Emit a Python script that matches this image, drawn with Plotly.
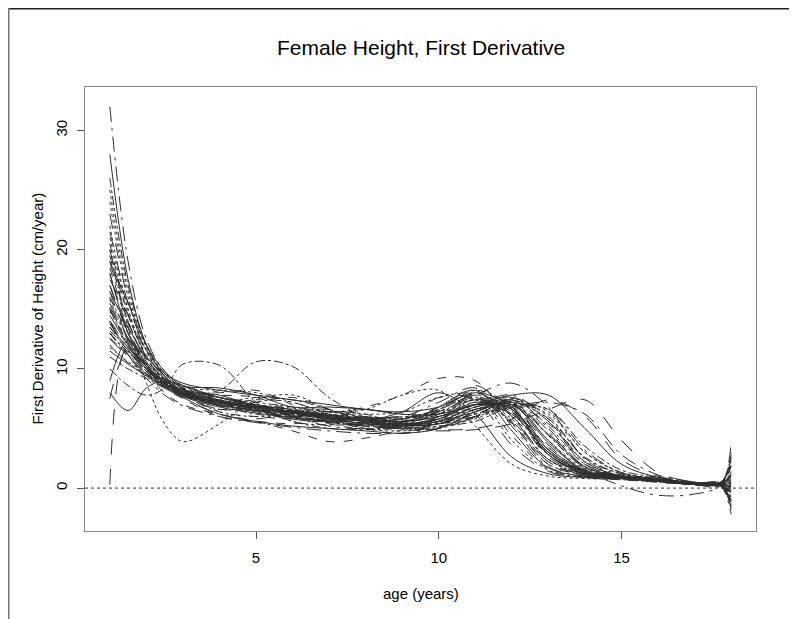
import plotly.graph_objects as go

ages = [1, 1.5, 2, 2.5, 3, 4, 5, 6, 7, 8, 9, 10, 11, 12, 13, 14, 15, 16, 17, 17.7, 18]

girl_01 = [18.0, 13.0, 10.2, 8.8, 8.0, 7.2, 6.8, 6.3, 5.9, 5.7, 6.4, 8.0, 6.2, 2.6, 1.2, 0.9, 0.8, 0.6, 0.3, 0.3, 1.0]
girl_02 = [14.0, 12.0, 10.0, 8.8, 8.0, 7.8, 7.6, 6.4, 5.4, 5.0, 5.5, 6.5, 7.8, 5.5, 2.2, 1.1, 0.9, 0.7, 0.4, 0.3, -0.5]
girl_03 = [22.0, 15.0, 11.0, 9.0, 8.0, 7.0, 6.5, 6.2, 6.0, 5.6, 5.2, 5.5, 7.0, 7.2, 4.0, 1.6, 1.0, 0.7, 0.3, 0.4, 2.0]
girl_04 = [12.0, 10.5, 9.5, 8.5, 7.8, 7.0, 6.5, 6.0, 5.5, 5.2, 5.0, 5.0, 6.0, 7.5, 6.0, 2.5, 1.2, 0.8, 0.4, 0.2, -1.0]
girl_05 = [16.5, 12.5, 10.0, 8.6, 7.6, 6.2, 5.8, 6.4, 6.6, 5.8, 5.2, 6.2, 7.6, 6.0, 2.8, 1.3, 0.9, 0.6, 0.3, 0.5, 0.2]
girl_06 = [20.0, 14.5, 11.2, 9.4, 8.4, 7.6, 7.0, 6.5, 6.1, 5.9, 6.0, 7.2, 8.4, 5.2, 1.8, 1.0, 0.8, 0.6, 0.3, 0.2, 3.0]
girl_07 = [13.5, 11.8, 10.2, 9.0, 8.2, 7.4, 6.9, 6.4, 6.0, 5.6, 5.3, 5.4, 6.6, 7.0, 4.5, 1.8, 1.0, 0.8, 0.4, 0.4, -1.8]
girl_08 = [15.0, 12.2, 9.8, 8.4, 7.5, 6.0, 5.6, 5.4, 5.6, 5.0, 4.6, 5.6, 7.2, 6.4, 3.0, 1.3, 1.0, 0.7, 0.4, 0.3, 1.2]
girl_09 = [25.0, 16.5, 11.8, 9.6, 8.5, 8.2, 8.0, 7.2, 6.4, 6.6, 6.2, 6.2, 7.4, 6.6, 3.2, 1.4, 0.9, 0.6, 0.3, 0.3, -0.3]
girl_10 = [11.0, 10.0, 9.2, 8.4, 7.8, 7.1, 6.6, 6.2, 5.8, 5.4, 5.1, 5.2, 5.6, 6.8, 6.6, 3.5, 1.5, 0.9, 0.5, 0.3, 0.6]
girl_11 = [17.0, 13.2, 10.6, 9.0, 8.0, 7.0, 6.5, 6.0, 5.6, 5.3, 5.6, 7.6, 7.4, 3.6, 1.4, 0.9, 0.8, 0.6, 0.3, 0.2, -1.2]
girl_12 = [19.0, 14.0, 10.8, 9.2, 8.2, 7.0, 7.4, 7.2, 6.2, 5.8, 6.0, 6.0, 6.8, 7.6, 5.0, 1.8, 1.0, 0.7, 0.4, 0.5, 1.6]
girl_13 = [14.5, 12.0, 10.0, 8.6, 7.7, 6.8, 6.3, 5.9, 5.6, 5.3, 5.2, 6.8, 8.2, 4.8, 1.7, 1.0, 0.8, 0.6, 0.3, 0.3, 0.0]
girl_14 = [13.0, 11.0, 9.5, 8.5, 7.8, 7.0, 6.5, 6.2, 6.3, 6.8, 7.8, 9.2, 9.0, 5.5, 2.0, 1.1, 0.8, 0.5, 0.3, 0.4, 2.4]
girl_15 = [21.0, 15.0, 11.0, 9.0, 7.9, 7.0, 6.6, 6.3, 6.0, 5.7, 5.5, 5.4, 5.9, 7.3, 6.4, 3.0, 1.3, 0.8, 0.4, 0.3, -0.8]
girl_16 = [16.0, 13.0, 10.4, 8.8, 7.8, 6.6, 7.2, 7.6, 6.6, 5.6, 5.2, 5.8, 7.0, 6.8, 3.4, 1.5, 1.0, 0.7, 0.3, 0.3, 0.9]
girl_17 = [12.5, 11.0, 9.6, 8.6, 7.9, 7.2, 6.7, 6.2, 5.8, 5.4, 5.1, 4.9, 5.0, 5.8, 7.4, 6.0, 2.4, 1.0, 0.5, 0.3, 1.5]
girl_18 = [15.5, 12.5, 10.2, 8.8, 8.0, 7.3, 6.8, 6.4, 6.1, 5.8, 5.8, 6.4, 7.8, 8.8, 6.8, 2.4, 1.1, 0.7, 0.3, 0.3, -0.4]
girl_19 = [10.0, 8.6, 7.8, 8.4, 10.4, 10.3, 7.2, 5.6, 5.3, 5.4, 5.8, 6.6, 7.6, 5.4, 2.0, 1.1, 0.8, 0.6, 0.3, 0.3, 0.4]
girl_20 = [13.0, 11.2, 9.6, 8.6, 8.0, 8.2, 10.6, 10.2, 7.6, 6.0, 5.6, 6.2, 7.4, 5.6, 2.4, 1.2, 0.9, 0.7, 0.3, 0.3, -1.4]
girl_21 = [20.0, 13.5, 8.8, 5.4, 3.9, 5.4, 7.4, 7.8, 6.6, 5.6, 5.2, 5.8, 7.2, 6.2, 2.8, 1.3, 0.9, 0.6, 0.3, 0.3, 0.8]
girl_22 = [8.0, 6.5, 8.4, 9.0, 8.6, 7.6, 6.9, 6.3, 5.9, 5.6, 5.4, 5.8, 7.0, 6.6, 3.2, 1.4, 1.0, 0.7, 0.4, 0.3, 0.1]
girl_23 = [0.3, 12.0, 11.0, 9.4, 8.3, 7.3, 6.8, 6.4, 6.0, 5.6, 5.3, 5.4, 6.4, 7.2, 4.6, 1.8, 1.0, 0.7, 0.3, 0.3, 3.8]
girl_24 = [32.0, 19.0, 12.5, 9.8, 8.6, 7.6, 7.0, 6.6, 6.2, 5.9, 5.8, 6.6, 8.0, 6.0, 2.4, 1.2, 0.9, 0.6, 0.3, 0.2, -2.2]
girl_25 = [28.0, 17.5, 12.0, 9.4, 8.2, 7.8, 6.8, 5.8, 5.6, 6.0, 5.4, 5.6, 6.8, 7.0, 3.8, 1.5, 1.0, 0.7, 0.3, 0.4, 1.1]
girl_26 = [15.0, 12.0, 9.6, 8.0, 7.0, 6.2, 5.6, 4.8, 3.9, 4.2, 4.9, 6.0, 7.4, 6.4, 3.0, 1.2, 0.8, 0.6, 0.3, 0.3, -0.6]
girl_27 = [24.0, 16.0, 11.5, 9.2, 8.0, 6.4, 6.0, 6.2, 6.0, 5.0, 4.8, 5.2, 5.8, 7.0, 6.2, 3.0, 1.3, 0.8, 0.4, 0.3, 0.4]
girl_28 = [13.0, 11.4, 10.0, 9.0, 8.3, 7.6, 7.2, 6.8, 6.4, 6.0, 5.9, 6.6, 8.2, 6.8, 2.8, 1.3, 0.9, 0.6, 0.3, 0.4, 2.2]
girl_29 = [14.0, 11.8, 10.0, 8.8, 8.0, 7.2, 6.6, 6.1, 5.6, 5.2, 4.9, 4.8, 4.9, 5.4, 6.6, 7.4, 4.0, 1.3, 0.5, 0.3, -1.0]
girl_30 = [17.5, 14.5, 11.5, 9.6, 8.4, 7.4, 6.8, 6.3, 5.8, 5.4, 5.2, 5.4, 6.0, 6.8, 7.2, 6.2, 2.8, 1.1, 0.5, 0.3, 0.6]
girl_31 = [11.5, 10.4, 9.4, 8.4, 7.6, 6.2, 5.6, 5.2, 5.0, 4.8, 4.6, 5.0, 6.4, 7.0, 4.0, 1.4, 0.9, 0.6, 0.3, 0.2, -0.2]
girl_32 = [19.5, 14.0, 10.6, 8.8, 7.8, 6.9, 6.4, 6.0, 5.7, 5.5, 5.6, 6.8, 7.8, 4.4, 1.6, 0.9, 0.7, 0.5, 0.3, 0.3, 1.8]
girl_33 = [16.0, 13.0, 10.6, 9.2, 8.4, 7.6, 7.0, 6.6, 6.4, 6.6, 7.8, 8.2, 5.2, 2.0, 1.0, 0.8, 0.7, 0.5, 0.3, 0.3, -1.6]
girl_34 = [13.5, 11.5, 9.8, 8.6, 7.8, 7.4, 6.6, 5.6, 5.0, 4.9, 5.0, 5.1, 6.0, 7.4, 5.2, 2.0, 1.0, 0.7, 0.3, 0.3, 0.9]
girl_35 = [21.5, 15.5, 11.6, 9.4, 8.2, 7.2, 6.7, 6.3, 5.9, 5.6, 5.4, 5.9, 7.4, 7.0, 3.2, 1.3, 0.9, 0.6, 0.3, 0.3, -0.9]
girl_36 = [15.0, 12.4, 10.2, 8.8, 7.9, 7.1, 6.6, 6.2, 5.8, 5.5, 5.3, 5.6, 6.8, 7.4, 4.8, 1.6, 0.2, -0.6, -0.5, 0.2, 2.6]
girl_37 = [9.0, 12.4, 10.4, 8.8, 7.9, 7.2, 6.8, 6.4, 6.1, 5.8, 5.6, 6.0, 7.0, 6.2, 3.0, 1.4, 0.9, 0.7, 0.4, 0.3, -0.4]
girl_38 = [18.5, 13.8, 10.8, 9.2, 8.2, 8.0, 8.2, 7.0, 6.0, 5.8, 6.0, 5.8, 6.4, 7.6, 5.8, 2.2, 1.0, 0.6, 0.3, 0.4, 1.3]
girl_39 = [14.8, 12.2, 10.2, 8.9, 8.1, 7.4, 7.0, 6.7, 6.4, 6.2, 6.4, 7.6, 7.8, 4.0, 1.5, 0.9, 0.8, 0.6, 0.3, 0.2, -0.1]
girl_40 = [26.0, 17.0, 12.0, 9.6, 8.4, 7.0, 6.2, 6.0, 6.4, 6.2, 5.4, 5.8, 6.6, 7.2, 4.4, 1.7, 1.0, 0.6, 0.3, 0.3, 0.7]
girl_41 = [7.5, 11.6, 10.2, 8.8, 7.8, 6.9, 6.4, 5.9, 5.5, 5.2, 5.0, 5.4, 6.6, 6.8, 3.6, 1.4, 0.9, 0.6, 0.3, 0.3, -1.3]
girl_42 = [17.0, 13.0, 10.3, 8.9, 8.0, 7.3, 6.9, 6.5, 6.1, 5.8, 5.6, 6.0, 7.0, 7.8, 5.6, 2.0, 1.0, 0.7, 0.4, 0.4, 1.9]
girl_43 = [19.0, 15.5, 12.0, 9.8, 8.6, 8.4, 7.8, 6.8, 6.8, 6.6, 6.2, 6.2, 7.0, 7.8, 7.8, 5.0, 2.0, 0.9, 0.4, 0.3, 0.2]
girl_44 = [13.2, 11.6, 10.0, 8.7, 7.8, 7.0, 6.5, 6.1, 5.7, 5.4, 5.3, 5.8, 7.2, 6.6, 3.0, 1.3, 0.8, 0.6, 0.3, 0.3, -0.7]
girl_45 = [15.8, 12.6, 10.2, 8.8, 7.9, 7.2, 6.8, 6.5, 6.2, 5.9, 5.8, 6.4, 7.4, 5.8, 2.4, 1.1, 0.8, 0.6, 0.3, 0.3, 1.4]
girl_46 = [12.6, 11.2, 9.8, 8.8, 8.1, 7.2, 7.6, 7.4, 6.6, 5.6, 5.2, 5.6, 6.2, 7.2, 5.8, 2.6, 1.2, 0.8, 0.4, 0.3, -0.3]
girl_47 = [23.0, 15.8, 11.4, 9.2, 8.1, 7.2, 6.7, 6.3, 6.0, 5.7, 5.6, 6.4, 7.8, 6.4, 2.6, 1.2, 0.9, 0.6, 0.3, 0.2, 0.5]
girl_48 = [14.0, 11.2, 9.2, 7.8, 6.9, 6.0, 5.5, 5.1, 4.8, 4.6, 4.6, 5.0, 6.2, 6.4, 3.4, 1.4, 0.9, 0.6, 0.3, 0.3, -1.1]
girl_49 = [16.5, 13.5, 11.0, 9.6, 8.8, 8.2, 7.8, 7.4, 7.0, 6.6, 6.4, 6.8, 8.0, 6.8, 2.8, 1.2, 0.9, 0.6, 0.3, 0.3, 1.0]
girl_50 = [18.0, 13.4, 10.4, 8.8, 7.8, 6.4, 6.0, 5.8, 5.8, 5.6, 5.0, 5.4, 6.2, 7.0, 5.4, 2.2, 1.0, 0.7, 0.3, 0.3, -0.5]
girl_51 = [11.8, 10.6, 9.6, 8.7, 8.0, 7.3, 6.9, 6.5, 6.1, 5.7, 5.5, 6.2, 7.8, 6.6, 2.8, 1.2, 0.9, 0.6, 0.3, 0.3, 0.3]
girl_52 = [20.5, 14.6, 11.0, 9.1, 8.0, 6.6, 6.8, 6.6, 5.8, 5.0, 5.2, 5.6, 6.4, 7.4, 5.6, 2.2, 1.0, 0.7, 0.3, 0.4, 2.8]
girl_53 = [15.2, 12.6, 10.4, 9.0, 8.1, 7.3, 6.8, 6.4, 6.0, 5.7, 5.6, 6.4, 8.6, 6.0, 2.2, 1.1, 0.8, 0.6, 0.3, 0.2, -0.8]
girl_54 = [13.8, 11.6, 9.9, 8.7, 7.9, 7.6, 7.0, 6.0, 5.2, 5.0, 5.4, 5.4, 6.0, 7.0, 6.6, 3.2, 1.3, 0.8, 0.4, 0.3, 0.0]

girls = [girl_01, girl_02, girl_03, girl_04, girl_05, girl_06, girl_07, girl_08, girl_09,
         girl_10, girl_11, girl_12, girl_13, girl_14, girl_15, girl_20, girl_17, girl_18,
         girl_22, girl_16, girl_21, girl_19, girl_23, girl_24, girl_25, girl_26, girl_27,
         girl_28, girl_29, girl_30, girl_31, girl_32, girl_33, girl_34, girl_35, girl_36,
         girl_37, girl_38, girl_39, girl_40, girl_41, girl_42, girl_43, girl_44, girl_45,
         girl_46, girl_47, girl_48, girl_49, girl_50, girl_51, girl_52, girl_53, girl_54]

x_ticks = [5, 10, 15]
y_ticks = [0, 10, 20, 30]

dashes = ["solid", "dash", "dot", "dashdot", "longdash", "longdashdot"]

FONT = "Liberation Sans, Arial, Helvetica, sans-serif"

fig = go.Figure()
for i, v in enumerate(girls):
    fig.add_trace(go.Scatter(
        x=ages, y=v, mode="lines",
        line=dict(color="#2e2e2e", width=1, dash=dashes[i % len(dashes)],
                  shape="spline", smoothing=1.0),
        showlegend=False, hoverinfo="skip"))

# dotted zero reference line
fig.add_shape(type="line", xref="paper", yref="y", x0=0, x1=1, y0=0, y1=0,
              line=dict(color="#333", width=1, dash="dot"), layer="below")

# page geometry (the page body adds an 8px offset)
W, H = 797, 619
L, R, T, B = 77, 49, 79, 96
pw, ph = W - L - R, H - T - B
def px(xp):
    return (xp - L) / pw
def py(yp):
    return (H - B - yp) / ph

# outer frame lines (top and left)
fig.add_shape(type="line", xref="paper", yref="paper", x0=px(0), x1=px(797), y0=py(0.75), y1=py(0.75),
              line=dict(color="#222", width=1.5))
fig.add_shape(type="line", xref="paper", yref="paper", x0=px(0.75), x1=px(0.75), y0=py(0), y1=py(619),
              line=dict(color="#777", width=1.5))

fig.update_layout(
    width=W, height=H,
    margin=dict(l=L, r=R, t=T, b=B),
    paper_bgcolor="white", plot_bgcolor="white",
    font=dict(family=FONT, size=15, color="black"),
    hovermode=False,
    annotations=[
        dict(text="Female Height, First Derivative", xref="paper", yref="paper",
             x=0.5, y=1, yshift=40, xanchor="center", yanchor="middle",
             showarrow=False, font=dict(size=21, family=FONT, color="black")),
        dict(text="age (years)", xref="paper", yref="paper",
             x=0.5, y=0, yshift=-52, xanchor="center", yanchor="top",
             showarrow=False, font=dict(size=15, family=FONT, color="black")),
        dict(text="First Derivative of Height (cm/year)", xref="paper", yref="paper",
             x=0, y=0.5, xshift=-38, xanchor="right", yanchor="middle", textangle=-90,
             showarrow=False, font=dict(size=15, family=FONT, color="black")),
    ],
)
fig.update_xaxes(range=[0.32, 18.68], tickvals=x_ticks, ticks="outside", ticklen=7,
                 tickcolor="#555", showline=True, linecolor="#888", linewidth=1, mirror=True,
                 showgrid=False, zeroline=False, ticklabelstandoff=6,
                 tickfont=dict(size=15, family=FONT, color="black"))
fig.update_yaxes(range=[-3.6, 33.65], tickvals=y_ticks, ticks="outside", ticklen=7,
                 tickcolor="#555", showline=True, linecolor="#888", linewidth=1, mirror=True,
                 showgrid=False, zeroline=False, tickangle=-90, ticklabelstandoff=4,
                 tickfont=dict(size=15, family=FONT, color="black"))

fig.write_html("out.html", config={"displayModeBar": False})
